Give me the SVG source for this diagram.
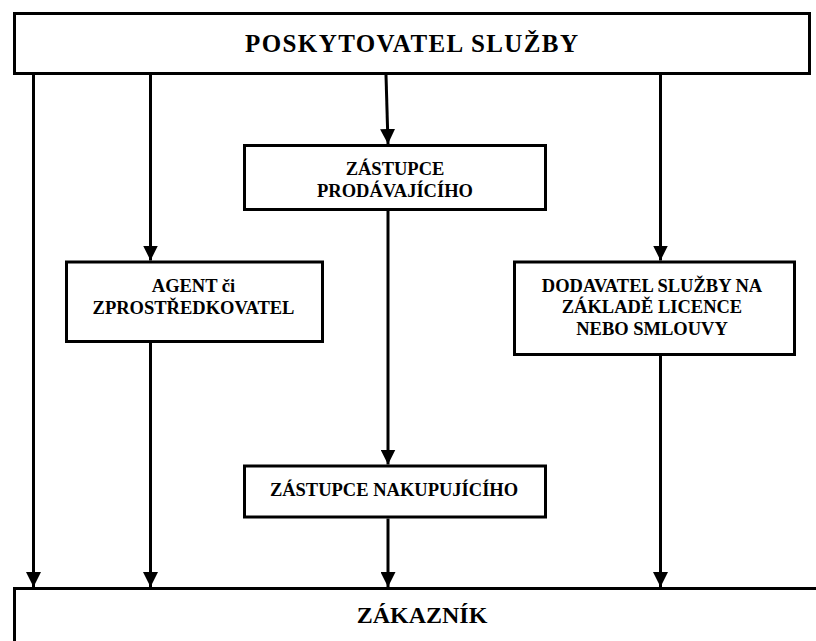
<svg xmlns="http://www.w3.org/2000/svg" width="816" height="641" viewBox="0 0 816 641">
<defs>
<marker id="ah" markerWidth="15" markerHeight="15" refX="15" refY="7.5" orient="auto" markerUnits="userSpaceOnUse">
<path d="M0,0 L15,7.5 L0,15 Z" fill="#000"/>
</marker>
<style>
.box{fill:#fff;stroke:#000;stroke-width:3}
.t{font-family:"Liberation Serif","Times New Roman",serif;font-weight:bold;fill:#000;text-anchor:middle}
.big{font-size:25px}
.sm{font-size:18.5px}
.c{fill:none;stroke:#000;stroke-width:3}
</style>
</defs>
<rect width="816" height="641" fill="#fff"/>
<g id="connectors">
<line class="c" x1="33.5" y1="75" x2="33.5" y2="587" marker-end="url(#ah)"/>
<line class="c" x1="150.5" y1="75" x2="150.5" y2="260.5" marker-end="url(#ah)"/>
<line class="c" x1="150.5" y1="343" x2="150.5" y2="587" marker-end="url(#ah)"/>
<line class="c" x1="386" y1="75" x2="388" y2="144" marker-end="url(#ah)"/>
<line class="c" x1="388" y1="211" x2="388" y2="464.5" marker-end="url(#ah)"/>
<line class="c" x1="388" y1="518.5" x2="388" y2="587" marker-end="url(#ah)"/>
<line class="c" x1="660.5" y1="75" x2="660.5" y2="260.5" marker-end="url(#ah)"/>
<line class="c" x1="660.5" y1="356" x2="660.5" y2="587" marker-end="url(#ah)"/>
</g>
<g id="poskytovatel">
<rect class="box" x="14.5" y="13.5" width="795" height="60"/>
<text class="t big" x="411.5" y="51.5" textLength="333" lengthAdjust="spacing">POSKYTOVATEL SLUŽBY</text>
</g>
<g id="zastupce-prodavajiciho">
<rect class="box" x="244.5" y="145.5" width="301" height="64"/>
<text class="t sm" x="395" y="175">ZÁSTUPCE</text>
<text class="t sm" x="395" y="196.5">PRODÁVAJÍCÍHO</text>
</g>
<g id="agent">
<rect class="box" x="66.5" y="262" width="256" height="79.5"/>
<text class="t sm" x="193.5" y="291.5">AGENT či</text>
<text class="t sm" x="193.5" y="313.5">ZPROSTŘEDKOVATEL</text>
</g>
<g id="dodavatel">
<rect class="box" x="514.5" y="262" width="280" height="92.5"/>
<text class="t sm" x="652" y="291.5">DODAVATEL SLUŽBY NA</text>
<text class="t sm" x="652" y="313">ZÁKLADĚ LICENCE</text>
<text class="t sm" x="652" y="335">NEBO SMLOUVY</text>
</g>
<g id="zastupce-nakupujiciho">
<rect class="box" x="244.5" y="466" width="301" height="51"/>
<text class="t sm" x="394" y="496">ZÁSTUPCE NAKUPUJÍCÍHO</text>
</g>
<g id="zakaznik">
<rect class="box" x="14.5" y="588.5" width="820" height="80"/>
<text class="t big" x="422" y="623" style="font-size:24px">ZÁKAZNÍK</text>
</g>
</svg>
